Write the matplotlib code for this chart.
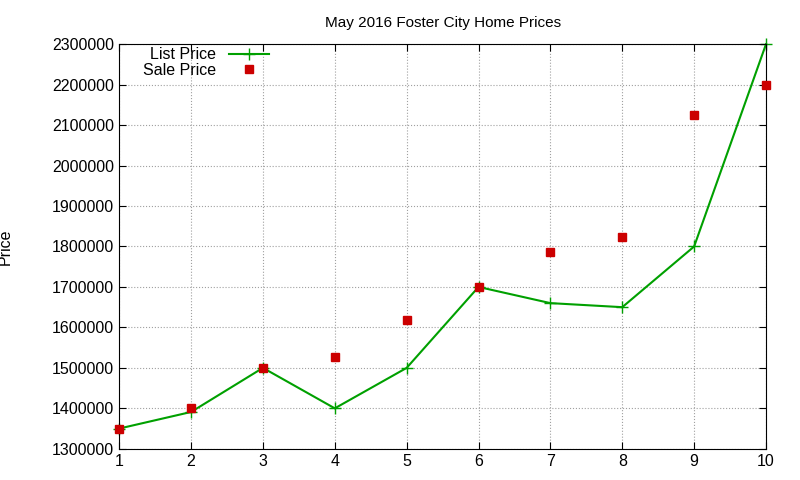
import matplotlib
matplotlib.use("Agg")
import matplotlib.pyplot as plt

x = [1, 2, 3, 4, 5, 6, 7, 8, 9, 10]
list_price = [1350000, 1391000, 1500000, 1400000, 1500000, 1700000, 1660000, 1650000, 1800000, 2300000]
sale_price = [1350000, 1400000, 1500000, 1527000, 1618000, 1700000, 1787000, 1824000, 2125000, 2199000]
yticks = list(range(1300000, 2300001, 100000))

plt.rcParams['font.family'] = ['Liberation Sans', 'DejaVu Sans']
fig = plt.figure(figsize=(8, 4.8), dpi=100)
ax = fig.add_axes([0.149, 0.065, 0.8085, 0.843])
ax.plot(x, list_price, color='#00a000', marker='+', markersize=8, lw=1.5, label='List Price', clip_on=False)
ax.plot(x, sale_price, color='#cc0000', marker='s', markersize=6, ls='none', label='Sale Price', clip_on=False, zorder=3)
ax.set_xlim(1, 10)
ax.set_ylim(1300000, 2300000)
ax.set_xticks(x)
ax.set_yticks(yticks)
ax.set_yticklabels([str(v) for v in yticks])
ax.tick_params(direction='in', top=True, right=True, labelsize=11.5, length=5)
ax.grid(True, color='#a0a0a0', ls=':', lw=0.8)
ax.set_title('May 2016 Foster City Home Prices', fontsize=11, pad=12)
ax.set_ylabel('Price', fontsize=11.5)
ax.yaxis.set_label_coords(-0.165, 0.5)
ax.legend(loc='upper left', frameon=False, markerfirst=False, fontsize=11.5,
          bbox_to_anchor=(0.02, 1.02), handlelength=2.5, borderpad=0.2, labelspacing=0.05)
fig.savefig('out.png', dpi=100)
